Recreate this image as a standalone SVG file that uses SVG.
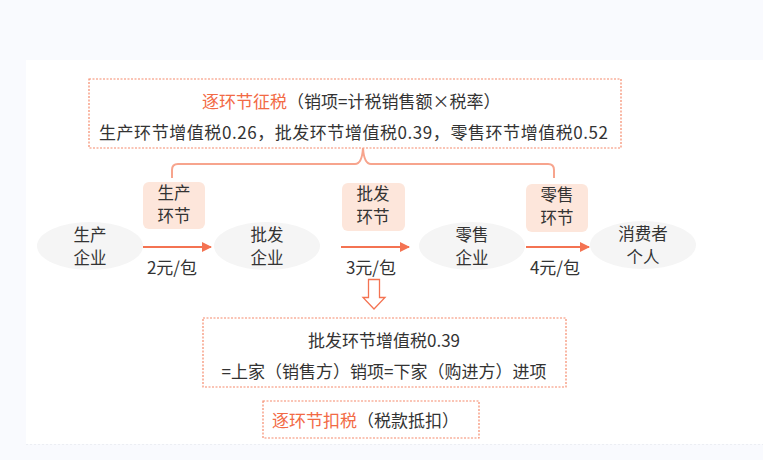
<svg xmlns="http://www.w3.org/2000/svg" width="763" height="460" viewBox="0 0 763 460">
<defs>
<style>
text{font-family:"Noto Sans CJK SC","Noto Sans",sans-serif;font-size:17px;fill:#333;}
.sm{font-size:16.5px;}
.or{fill:#f26a45;}
.dash{fill:#fff;stroke:#f58a6c;stroke-width:1.2;stroke-dasharray:2 1.5;}
.ell{fill:#f5f5f5;}
.stage{fill:#fde6db;}
.conn{stroke:#f47352;stroke-width:2;fill:none;}
.brace{stroke:#f7a48d;stroke-width:2;fill:none;}
</style>
<marker id="ah" viewBox="0 0 10 10" refX="9" refY="5" markerWidth="5" markerHeight="5" orient="auto" markerUnits="strokeWidth">
<path d="M0,0 L10,5 L0,10 z" fill="#f47352"/>
</marker>
</defs>
<rect x="0" y="0" width="763" height="460" fill="#f9fafe"/>
<rect x="26" y="60" width="737" height="384" fill="#fff"/>
<line x1="26" y1="444.5" x2="763" y2="444.5" stroke="#eceef3" stroke-dasharray="2 2"/>

<g id="top-box">
<rect class="dash" x="89" y="79" width="532" height="69"/>
<text x="202" y="108"><tspan class="or">逐环节征税</tspan>（销项=计税销售额×税率）</text>
<text x="99" y="139" textLength="509" lengthAdjust="spacing">生产环节增值税0.26，批发环节增值税0.39，零售环节增值税0.52</text>
</g>

<g id="brace">
<path class="brace" d="M172,178 L172,170 Q172,164 178,164 L355,164 Q362,164 363,148 Q364,164 371,164 L548,164 Q554,164 554,170 L554,178"/>
</g>

<g id="n-producer">
<ellipse class="ell" cx="90" cy="246" rx="53" ry="24"/>
<text class="sm" x="90" y="241" text-anchor="middle">生产</text>
<text class="sm" x="90" y="264" text-anchor="middle">企业</text>
</g>
<g id="n-wholesale">
<ellipse class="ell" cx="267" cy="246" rx="53" ry="24"/>
<text class="sm" x="267" y="241" text-anchor="middle">批发</text>
<text class="sm" x="267" y="264" text-anchor="middle">企业</text>
</g>
<g id="n-retail">
<ellipse class="ell" cx="472" cy="246" rx="53" ry="24"/>
<text class="sm" x="472" y="241" text-anchor="middle">零售</text>
<text class="sm" x="472" y="264" text-anchor="middle">企业</text>
</g>
<g id="n-consumer">
<ellipse class="ell" cx="643" cy="245" rx="53" ry="24"/>
<text class="sm" x="643" y="240" text-anchor="middle">消费者</text>
<text class="sm" x="643" y="263" text-anchor="middle">个人</text>
</g>

<g id="s-producer">
<rect class="stage" x="143" y="182" width="62" height="47" rx="6"/>
<text class="sm" x="174" y="199" text-anchor="middle">生产</text>
<text class="sm" x="174" y="222" text-anchor="middle">环节</text>
</g>
<g id="s-wholesale">
<rect class="stage" x="342" y="183" width="63" height="48" rx="6"/>
<text class="sm" x="373" y="200" text-anchor="middle">批发</text>
<text class="sm" x="373" y="223" text-anchor="middle">环节</text>
</g>
<g id="s-retail">
<rect class="stage" x="526" y="184" width="62" height="48" rx="6"/>
<text class="sm" x="557" y="201" text-anchor="middle">零售</text>
<text class="sm" x="557" y="224" text-anchor="middle">环节</text>
</g>

<g id="connectors">
<line class="conn" x1="143" y1="247" x2="211" y2="247" marker-end="url(#ah)"/>
<line class="conn" x1="341" y1="247" x2="409" y2="247" marker-end="url(#ah)"/>
<line class="conn" x1="526" y1="247" x2="589" y2="247" marker-end="url(#ah)"/>
<text x="172" y="274" text-anchor="middle">2元/包</text>
<text x="371" y="274" text-anchor="middle">3元/包</text>
<text x="555" y="274" text-anchor="middle">4元/包</text>
<path d="M368.5,279.5 L379.5,279.5 L379.5,297.5 L385,297.5 L374,309 L363,297.5 L368.5,297.5 Z" fill="#fff" stroke="#f47352" stroke-width="1.3"/>
</g>

<g id="mid-box">
<rect class="dash" x="203" y="318" width="363" height="69"/>
<text x="384" y="347" text-anchor="middle">批发环节增值税0.39</text>
<text x="384" y="378" text-anchor="middle">=上家（销售方）销项=下家（购进方）进项</text>
</g>

<g id="bottom-box">
<rect class="dash" x="263" y="401" width="216" height="37"/>
<text x="272" y="427"><tspan class="or">逐环节扣税</tspan>（税款抵扣）</text>
</g>
</svg>
